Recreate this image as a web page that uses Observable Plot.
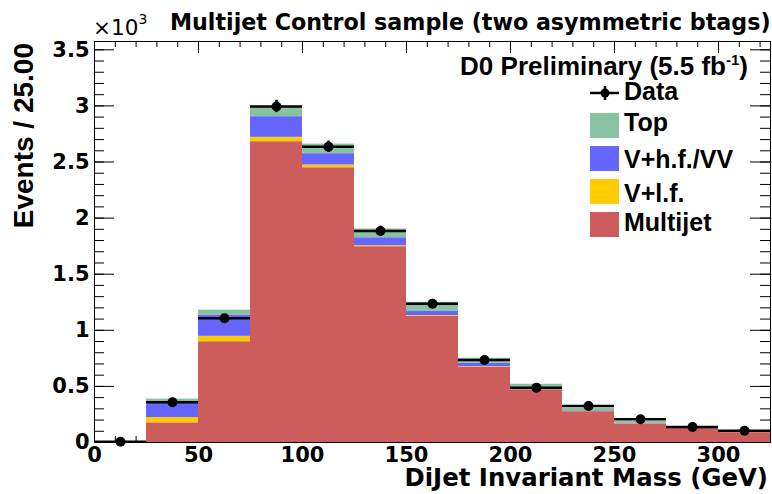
<!DOCTYPE html>
<html><head><meta charset="utf-8">
<script src="https://cdn.jsdelivr.net/npm/d3@7"></script>
<script src="https://cdn.jsdelivr.net/npm/@observablehq/plot@0.6"></script>
<style>html,body{margin:0;padding:0;background:#fff;}</style>
</head><body><div id="chart"></div>
<script>
// ---- data (values in units of 10^3 events per 25 GeV) ----
const binLow   = [0, 25, 50, 75, 100, 125, 150, 175, 200, 225, 250, 275, 300];
const binWidth = 25;
const multijet = [0.004, 0.175, 0.898, 2.681, 2.449, 1.745, 1.125, 0.671, 0.471, 0.275, 0.165, 0.130, 0.088];
const vlf      = [0.000, 0.047, 0.048, 0.039, 0.024, 0.009, 0.006, 0.005, 0.006, 0.002, 0.002, 0.001, 0.001];
const vhf      = [0.000, 0.133, 0.190, 0.184, 0.101, 0.071, 0.041, 0.030, 0.012, 0.006, 0.004, 0.003, 0.005];
const topq     = [0.000, 0.032, 0.044, 0.089, 0.086, 0.078, 0.078, 0.044, 0.030, 0.022, 0.018, 0.007, 0.003];
const dataVals = [0.006, 0.358, 1.107, 2.995, 2.636, 1.885, 1.237, 0.735, 0.489, 0.325, 0.207, 0.138, 0.104];
const dataErr  = [0.003, 0.019, 0.033, 0.055, 0.051, 0.043, 0.035, 0.027, 0.022, 0.018, 0.014, 0.012, 0.010];
const seriesNames  = ["Multijet", "V+l.f.", "V+h.f./VV", "Top"];
const seriesColors = ["#cd5c5c", "#ffcc00", "#6666ff", "#87c3a0"];
const legendNames  = ["Top", "V+h.f./VV", "V+l.f.", "Multijet"];
const yTicks      = [0, 0.5, 1, 1.5, 2, 2.5, 3, 3.5];
const yTickLabels = ["0", "0.5", "1", "1.5", "2", "2.5", "3", "3.5"];
const xTicks      = [0, 50, 100, 150, 200, 250, 300];
const xTickLabels = ["0", "50", "100", "150", "200", "250", "300"];
const titleText = "Multijet Control sample (two asymmetric btags)";
const xLabel = "DiJet Invariant Mass (GeV)";
const yLabel = "Events / 25.00";

// ---- build stacked table ----
const series = [multijet, vlf, vhf, topq];
const rects = [];
binLow.forEach((lo, i) => {
  let base = 0;
  series.forEach((s, k) => {
    rects.push({x1: lo, x2: lo + binWidth, y1: base, y2: base + s[i], series: seriesNames[k]});
    base += s[i];
  });
});
const pts = binLow.map((lo, i) => ({x1: lo, x2: lo + binWidth, xc: lo + binWidth / 2, v: dataVals[i], lo: dataVals[i] - dataErr[i], hi: dataVals[i] + dataErr[i]}));
const yMinor = d3.range(0, 36).map(i => i / 10);
const xMinor = d3.range(0, 33).map(i => i * 10);

const W = 772, H = 494, mL = 94, mR = 2, mT = 41, mB = 52;
const fw = W - mL - mR, fh = H - mT - mB;
const tickFont = "DejaVu Sans";

const plot = Plot.plot({
  width: W, height: H,
  marginLeft: mL, marginRight: mR, marginTop: mT, marginBottom: mB,
  x: {domain: [0, 325], axis: null},
  y: {domain: [0, 3.574], axis: null},
  color: {domain: seriesNames, range: seriesColors},
  style: {background: "white", overflow: "visible"},
  marks: [
    // inward ticks
    Plot.tickY(yMinor, {y: d => d, insetRight: fw - 10, stroke: "black"}),
    Plot.tickY(yTicks, {y: d => d, insetRight: fw - 20, stroke: "black"}),
    Plot.tickY(yMinor, {y: d => d, insetLeft: fw - 10, stroke: "black"}),
    Plot.tickY(yTicks, {y: d => d, insetLeft: fw - 20, stroke: "black"}),
    Plot.tickX(xMinor, {x: d => d, insetBottom: fh - 6, stroke: "black"}),
    Plot.tickX(xTicks, {x: d => d, insetBottom: fh - 12, stroke: "black"}),
    Plot.tickX(xMinor, {x: d => d, insetTop: fh - 6, stroke: "black"}),
    Plot.tickX(xTicks, {x: d => d, insetTop: fh - 12, stroke: "black"}),
    Plot.frame({stroke: "black", strokeWidth: 1}),
    // stacked histogram
    Plot.rect(rects, {x1: "x1", x2: "x2", y1: "y1", y2: "y2", fill: "series"}),
    // data
    Plot.ruleY(pts, {x1: "x1", x2: "x2", y: "v", stroke: "black", strokeWidth: 2.5}),
    Plot.ruleX(pts, {x: "xc", y1: "lo", y2: "hi", stroke: "black", strokeWidth: 2.5}),
    Plot.dot(pts, {x: "xc", y: "v", r: 5, fill: "black"}),
    // tick labels
    Plot.text(yTicks, {y: d => d, text: (d, i) => yTickLabels[i], frameAnchor: "left", textAnchor: "end", dx: -5, lineAnchor: "middle",
      fontFamily: tickFont, fontWeight: "bold", fontSize: 21, fill: "black"}),
    Plot.text(xTicks, {x: d => d, text: (d, i) => xTickLabels[i], frameAnchor: "bottom", textAnchor: "middle", dy: 5, lineAnchor: "top",
      fontFamily: tickFont, fontWeight: "bold", fontSize: 21, fill: "black"})
  ]
});
document.getElementById("chart").appendChild(plot);

// ---- titles, labels, legend ----
const svg = d3.select(plot);
const g = svg.append("g").attr("fill", "black").attr("text-anchor", "start");
g.append("text").attr("x", 170).attr("y", 30).attr("text-anchor", "start").attr("font-family", "DejaVu Sans").attr("font-weight", "bold")
  .attr("font-size", 22.2).text(titleText);
const t10 = g.append("text").attr("x", 93).attr("y", 35).attr("text-anchor", "start").attr("font-family", "DejaVu Sans").attr("font-size", 21.5);
t10.append("tspan").text("×10");
t10.append("tspan").attr("dy", -11).attr("font-size", 14).text("3");
g.append("text").attr("transform", "translate(33,43) rotate(-90)").attr("text-anchor", "end")
  .attr("font-family", "Liberation Sans").attr("font-weight", "bold").attr("font-size", 28).text(yLabel);
g.append("text").attr("x", 768).attr("y", 486).attr("text-anchor", "end").attr("font-family", "DejaVu Sans")
  .attr("font-weight", "bold").attr("font-size", 24.4).text(xLabel);
const d0 = g.append("text").attr("x", 748).attr("y", 75).attr("text-anchor", "end")
  .attr("font-family", "Liberation Sans").attr("font-weight", "bold").attr("font-size", 26);
d0.append("tspan").text("D0 Preliminary (5.5 fb");
d0.append("tspan").attr("dy", -10).attr("font-size", 15).text("-1");
d0.append("tspan").attr("dy", 10).text(")");

// legend
const lf = {family: "Liberation Sans", size: 25};
g.append("line").attr("x1", 590).attr("x2", 619).attr("y1", 93).attr("y2", 93).attr("stroke", "black").attr("stroke-width", 2.5);
g.append("line").attr("x1", 605).attr("x2", 605).attr("y1", 86).attr("y2", 100).attr("stroke", "black").attr("stroke-width", 2.5);
g.append("circle").attr("cx", 605).attr("cy", 93).attr("r", 4.5).attr("fill", "black");
g.append("text").attr("x", 624).attr("y", 100).attr("text-anchor", "start").attr("font-family", lf.family).attr("font-weight", "bold").attr("font-size", lf.size).text("Data");
const swY = [113, 146, 179, 212];
const txY = [131, 168, 202, 231];
legendNames.forEach((n, i) => {
  g.append("rect").attr("x", 590).attr("y", swY[i]).attr("width", 29).attr("height", 25)
    .attr("fill", seriesColors[seriesNames.indexOf(n)]);
  g.append("text").attr("x", 624).attr("y", txY[i]).attr("text-anchor", "start").attr("font-family", lf.family).attr("font-weight", "bold")
    .attr("font-size", lf.size).text(n);
});
</script>
</body></html>
